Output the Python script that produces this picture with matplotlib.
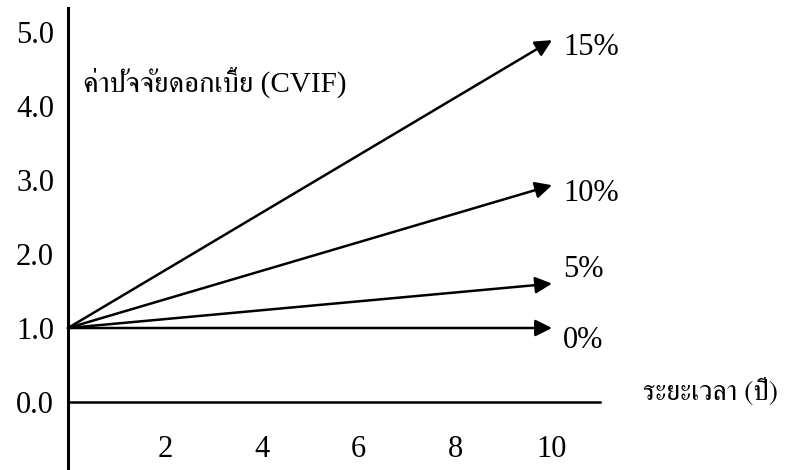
import matplotlib
matplotlib.use("Agg")
import matplotlib.pyplot as plt

# ---- data ----
rates = ["0%", "5%", "10%", "15%"]
start_year = 0
end_year = 10
start_value = 1.0
end_values = [1.0, 1.6, 2.93, 4.89]
y_ticks = [0, 1, 2, 3, 4, 5]
y_tick_labels = ["0.0", "1.0", "2.0", "3.0", "4.0", "5.0"]
x_ticks = [2, 4, 6, 8, 10]
x_tick_labels = ["2", "4", "6", "8", "10"]
y_title = "ค่าปัจจัยดอกเบี้ย (CVIF)"
x_title = "ระยะเวลา (ปี)"

plt.rcParams["font.family"] = ["Liberation Serif", "FreeSerif", "DejaVu Sans"]

W, H = 785, 470
fig = plt.figure(figsize=(W / 100, H / 100), dpi=100)
# axes spans x px 68..600, y px 8..470
ax = fig.add_axes([68 / W, 0.0, (600 - 68) / W, (470 - 8) / H])
px_per_x = (552 - 68) / 10.0
ax.set_xlim(0, (600 - 68) / px_per_x)
px_per_y = 74.0
ax.set_ylim(-(470 - 402) / px_per_y, (402 - 8) / px_per_y)

for s in ["top", "right"]:
    ax.spines[s].set_visible(False)
ax.spines["left"].set_linewidth(2.2)
ax.spines["bottom"].set_position(("data", 0))
ax.spines["bottom"].set_linewidth(1.8)

ax.set_yticks(y_ticks)
ax.set_yticklabels(y_tick_labels)
ax.set_xticks(x_ticks)
ax.set_xticklabels(x_tick_labels)
ax.tick_params(axis="y", length=0, pad=10, labelsize=22)
ax.tick_params(axis="x", length=0, pad=24, labelsize=22)

label_offsets = [(8, -9), (8, 10), (8, -6), (8, -5)]
for rate, v, off in zip(rates, end_values, label_offsets):
    ax.annotate("", xy=(end_year, v), xytext=(start_year, start_value),
                arrowprops=dict(arrowstyle="-|>", lw=1.8, color="black",
                                mutation_scale=25, shrinkA=0, shrinkB=0),
                annotation_clip=False)
    ax.annotate(rate, xy=(end_year, v), xytext=(off[0], off[1]),
                textcoords="offset points", ha="left", va="center",
                fontsize=22, annotation_clip=False)

fig.text(83 / W, 1 - 82 / H, y_title, ha="left", va="center", fontsize=21,
         family=["Liberation Serif", "FreeSerif"])
fig.text(643 / W, 1 - 392 / H, x_title, ha="left", va="center", fontsize=20,
         family=["FreeSerif", "Liberation Serif"])

fig.savefig("out.png", dpi=100)
